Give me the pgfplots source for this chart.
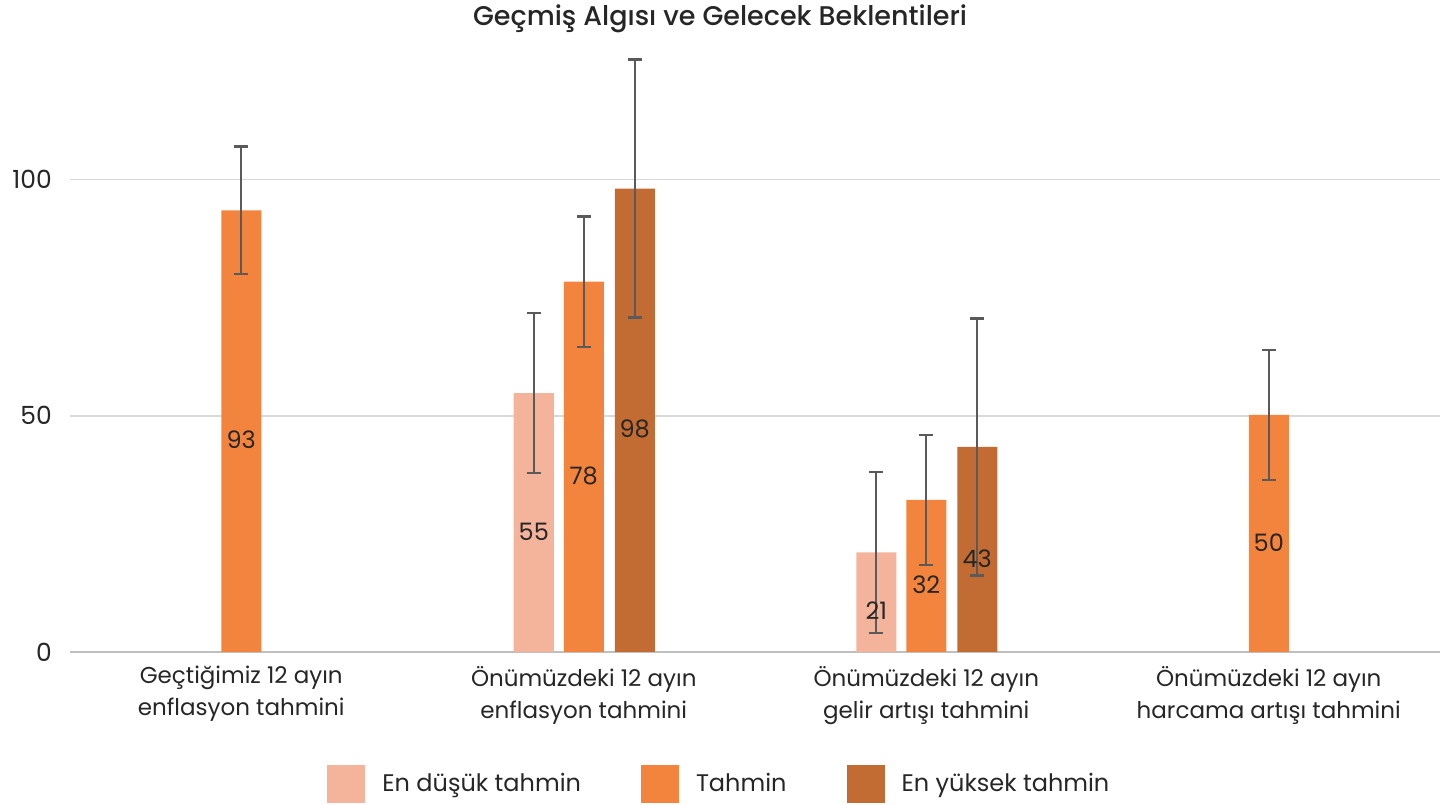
\documentclass[border=0pt]{standalone}
\usepackage{pgfplots}
\pgfplotsset{compat=1.18}
\usepackage{pgfplotstable}
\usepackage{fontspec}
\setmainfont{Poppins}
\newfontfamily\titlefont{Poppins Medium}
\definecolor{cLight}{HTML}{F4B49B}
\definecolor{cMid}{HTML}{F3843E}
\definecolor{cDark}{HTML}{C26B32}
\definecolor{txt}{HTML}{262626}
\definecolor{grd}{HTML}{D9D9D9}
\definecolor{axg}{HTML}{BFBFBF}
\definecolor{errc}{HTML}{5A5A5A}

\pgfplotstableread{
x y e lab
1 54.8 16.9 55
2 21.1 17.0 21
}\lowT
\pgfplotstableread{
x y e lab
0 93.5 13.5 93
1 78.4 13.8 78
2 32.2 13.8 32
3 50.2 13.8 50
}\midT
\pgfplotstableread{
x y e lab
1 98.1 27.3 98
2 43.4 27.2 43
}\highT

\begin{document}
\fontsize{23bp}{32bp}\selectfont
\begin{tikzpicture}
\path[use as bounding box] (0,0) rectangle (1451bp,805bp);
\begin{axis}[
  at={(70bp,153bp)}, anchor=south west,
  scale only axis, width=1370bp, height=600bp,
  xmin=-0.5, xmax=3.5, ymin=0, ymax=127,
  ybar, bar width=40bp,
  axis x line*=bottom, axis y line*=left,
  y axis line style={draw=none},
  x axis line style={draw=axg, line width=1.5bp},
  ymajorgrids, grid style={grd, line width=1.5bp},
  ytick={0,50,100},
  ytick style={draw=none},
  xtick={0,1,2,3},
  xtick style={draw=none},
  xticklabels={{Geçtiğimiz 12 ayın\\enflasyon tahmini},{Önümüzdeki 12 ayın\\enflasyon tahmini},{Önümüzdeki 12 ayın\\gelir artışı tahmini},{Önümüzdeki 12 ayın\\harcama artışı tahmini}},
  xticklabel style={align=center, inner sep=0pt, yshift=-10bp, text=txt, font=\fontsize{23bp}{32bp}\selectfont},
  yticklabel style={inner sep=0pt, xshift=-18bp, text=txt, font=\fontsize{25bp}{28bp}\selectfont},
  /pgf/number format/assume math mode=true,
  extra x ticks={-0.5,0.5,1.5,2.5,3.5},
  extra x tick labels={},
  extra x tick style={tick align=outside, major tick length=8bp, tick style={draw=axg, line width=1.5bp}, grid=none},
  title={Geçmiş Algısı ve Gelecek Beklentileri},
  title style={at={(0.4745,1)}, anchor=center, yshift=27bp, text=txt, font=\titlefont\fontsize{27bp}{30bp}\selectfont},
  legend style={at={(0.474,-0.22)}, anchor=center, legend columns=3, draw=none, fill=none,
    /tikz/every odd column/.append style={column sep=15bp},
    /tikz/every even column/.append style={column sep=58bp},
    cells={anchor=west}, font=\fontsize{24bp}{27bp}\selectfont, text=txt},
  point meta=explicit,
  nodes near coords={\pgfmathprintnumber{\pgfplotspointmeta}},
  visualization depends on={y \as \rawy},
  every node near coord/.append style={anchor=center, shift={(axis direction cs:0,-\rawy/2)}, yshift=-9bp, text=txt, font=\fontsize{24bp}{26bp}\selectfont},
  error bars/y dir=both, error bars/y explicit,
  error bars/error bar style={errc, line width=2.2bp},
  error bars/error mark options={errc, line width=2.2bp, mark size=7bp, rotate=90},
]
\addplot+[bar shift=-50bp, fill=cLight, draw=none,
  legend image code/.code={\fill[cLight] (0bp,-19bp) rectangle (38bp,19bp);}]
  table[x=x, y=y, y error=e, meta=lab] {\lowT};
\addplot+[bar shift=0bp, fill=cMid, draw=none,
  legend image code/.code={\fill[cMid] (0bp,-19bp) rectangle (38bp,19bp);}]
  table[x=x, y=y, y error=e, meta=lab] {\midT};
\addplot+[bar shift=51bp, fill=cDark, draw=none,
  legend image code/.code={\fill[cDark] (0bp,-19bp) rectangle (38bp,19bp);}]
  table[x=x, y=y, y error=e, meta=lab] {\highT};
\legend{En düşük tahmin, Tahmin, En yüksek tahmin}
\end{axis}
\end{tikzpicture}
\end{document}
